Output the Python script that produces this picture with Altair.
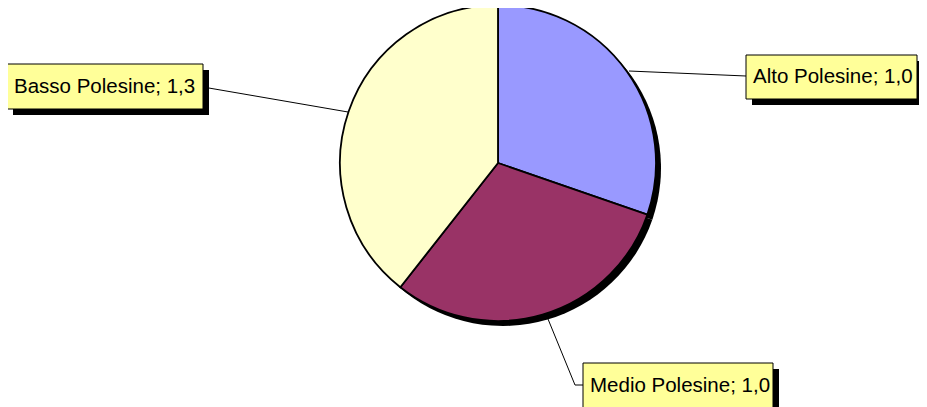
import altair as alt
import pandas as pd

# ---- data ----
names = ["Alto Polesine", "Medio Polesine", "Basso Polesine"]
values = [1.0, 1.0, 1.3]
colors = ["#9999FF", "#993366", "#FFFFCC"]

# ---- layout (image pixel coords) ----
OFF = 8  # page margin
cx, cy, R = 498, 163, 158
pie_shadow = 5
box_x0 = [746, 583, 7]
box_y0 = [55, 363, 64]
box_x1 = [917, 773, 203]
box_y1 = [99, 408, 109]
box_shadow = 6
# leader polylines per label
leaders = {
    "Alto Polesine": [(629, 71), (746, 76)],
    "Medio Polesine": [(548, 319), (575, 385), (583, 385)],
    "Basso Polesine": [(203, 87), (348, 112)],
}

def fmt(v):
    return f"{v:.1f}".replace(".", ",")

pie_df = pd.DataFrame({"name": names, "value": values, "idx": range(len(names))})

boxes = pd.DataFrame({
    "name": names,
    "label": [f"{n}; {fmt(v)}" for n, v in zip(names, values)],
    "x0": [x - OFF for x in box_x0],
    "x1": [x - OFF for x in box_x1],
    "y0": [y - OFF for y in box_y0],
    "y1": [y - OFF for y in box_y1],
})
boxes["sx0"] = boxes["x0"] + box_shadow
boxes["sx1"] = boxes["x1"] + box_shadow
boxes["sy0"] = boxes["y0"] + box_shadow
boxes["sy1"] = boxes["y1"] + box_shadow
boxes["tx"] = boxes["x0"] + 7
boxes["ty"] = (boxes["y0"] + boxes["y1"]) / 2

rows = []
for n, pts in leaders.items():
    for i, (x, y) in enumerate(pts):
        rows.append({"name": n, "seq": i, "x": x - OFF, "y": y - OFF})
lead_df = pd.DataFrame(rows)

W, H = 911, 399

shadow = alt.Chart(pie_df).mark_arc(outerRadius=R, color="black").encode(
    theta=alt.Theta("value:Q", stack=True),
    order=alt.Order("idx:Q"),
    x=alt.value(cx - OFF + pie_shadow),
    y=alt.value(cy - OFF + pie_shadow),
)

pie = alt.Chart(pie_df).mark_arc(outerRadius=R, stroke="black", strokeWidth=1.8).encode(
    theta=alt.Theta("value:Q", stack=True),
    order=alt.Order("idx:Q"),
    color=alt.Color("name:N", scale=alt.Scale(domain=names, range=colors), legend=None),
    x=alt.value(cx - OFF),
    y=alt.value(cy - OFF),
)

lines = alt.Chart(lead_df).mark_line(color="black", strokeWidth=1).encode(
    x=alt.X("x:Q", scale=None, axis=None),
    y=alt.Y("y:Q", scale=None, axis=None),
    detail="name:N",
    order="seq:Q",
)

box_sh = alt.Chart(boxes).mark_rect(color="black").encode(
    x=alt.X("sx0:Q", scale=None, axis=None), x2="sx1:Q",
    y=alt.Y("sy0:Q", scale=None, axis=None), y2="sy1:Q",
)

box = alt.Chart(boxes).mark_rect(fill="#FFFF99", stroke="black", strokeWidth=1).encode(
    x=alt.X("x0:Q", scale=None, axis=None), x2="x1:Q",
    y=alt.Y("y0:Q", scale=None, axis=None), y2="y1:Q",
)

text = alt.Chart(boxes).mark_text(
    align="left", baseline="middle", font="Liberation Sans", fontSize=20.5, color="black"
).encode(
    x=alt.X("tx:Q", scale=None, axis=None),
    y=alt.Y("ty:Q", scale=None, axis=None),
    text="label:N",
)

chart = alt.layer(shadow, pie, lines, box_sh, box, text).properties(
    width=W, height=H, autosize=alt.AutoSizeParams(type="none"), padding=0
).configure_view(stroke=None).resolve_scale(color="independent")

chart.save("out.html", embed_options={"renderer": "svg", "actions": False})
